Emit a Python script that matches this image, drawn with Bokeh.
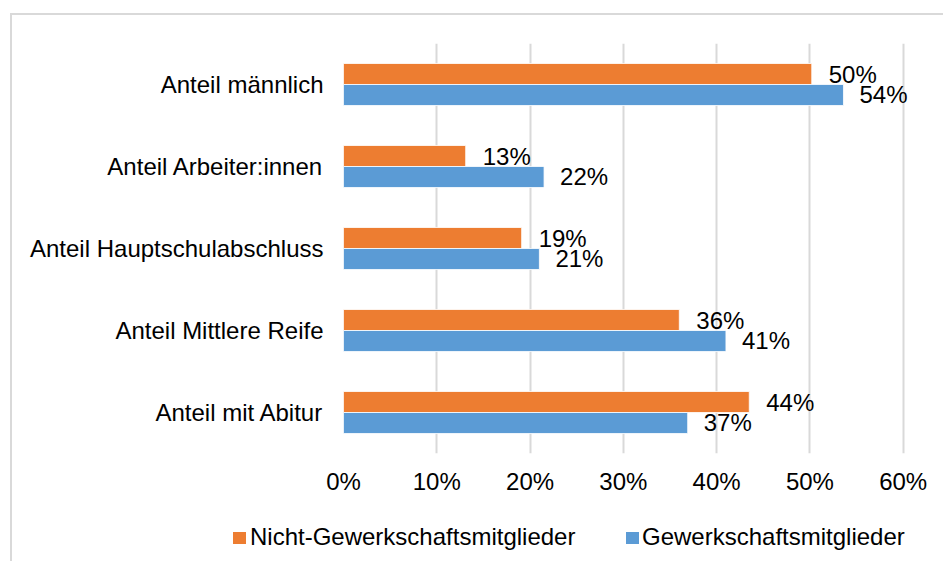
from bokeh.plotting import figure
from bokeh.layouts import column
from bokeh.models import (ColumnDataSource, FixedTicker, NumeralTickFormatter, Range1d, Div)
from bokeh.transform import dodge
from bokeh.core.properties import value
from bokeh.embed import file_html
from bokeh.resources import INLINE

# ---- data ----
categories = ["Anteil männlich", "Anteil Arbeiter:innen", "Anteil Hauptschulabschluss",
              "Anteil Mittlere Reife", "Anteil mit Abitur"]
non_members = [0.502, 0.131, 0.191, 0.360, 0.435]
members = [0.536, 0.215, 0.210, 0.410, 0.369]
non_labels = ["50%", "13%", "19%", "36%", "44%"]
mem_labels = ["54%", "22%", "21%", "41%", "37%"]
x_ticks = [0.0, 0.1, 0.2, 0.3, 0.4, 0.5, 0.6]
series_names = ["Nicht-Gewerkschaftsmitglieder", "Gewerkschaftsmitglieder"]
colors = ["#ED7D31", "#5B9BD5"]

FONT = "Liberation Sans"
FS = "24px"
TXT = "#000000"
BORDER = "#d9d9d9"

src = ColumnDataSource(dict(cat=categories, non=non_members, mem=members,
                            non_lab=non_labels, mem_lab=mem_labels))

# ---- main chart ----
p = figure(width=943, height=500, y_range=list(reversed(categories)),
           x_range=Range1d(0, 0.61), output_backend="svg", toolbar_location=None,
           min_border_left=343, min_border_right=31, min_border_top=43,
           min_border_bottom=47)
p.styles = {"background": f"linear-gradient({BORDER}, {BORDER}) 10px 13px / 2px 600px no-repeat, "
                          f"linear-gradient({BORDER}, {BORDER}) 10px 13px / 1200px 2px no-repeat, white"}
p.outline_line_color = None
p.background_fill_color = "white"
p.border_fill_alpha = 0

bar_h = 0.256
off = 0.128
p.hbar(y=dodge("cat", off, range=p.y_range), right="non", left=0, height=bar_h,
       source=src, fill_color=colors[0], line_color="white", line_width=0.8)
p.hbar(y=dodge("cat", -off, range=p.y_range), right="mem", left=0, height=bar_h,
       source=src, fill_color=colors[1], line_color="white", line_width=0.8)

p.text(x="non", y=dodge("cat", off, range=p.y_range), text="non_lab", source=src,
       x_offset=17, text_baseline="middle", text_align="left",
       text_font=value(FONT), text_font_size=FS, text_color=TXT)
p.text(x="mem", y=dodge("cat", -off, range=p.y_range), text="mem_lab", source=src,
       x_offset=16, text_baseline="middle", text_align="left",
       text_font=value(FONT), text_font_size=FS, text_color=TXT)

p.xaxis.ticker = FixedTicker(ticks=x_ticks)
p.xaxis.formatter = NumeralTickFormatter(format="0%")
for ax in (p.xaxis[0], p.yaxis[0]):
    ax.axis_line_color = None
    ax.major_tick_line_color = None
    ax.minor_tick_line_color = None
    ax.major_tick_out = 0
    ax.major_tick_in = 0
    ax.major_label_text_font = FONT
    ax.major_label_text_font_size = FS
    ax.major_label_text_color = TXT
p.xaxis.major_label_standoff = 14
p.yaxis.major_label_standoff = 20

p.ygrid.grid_line_color = None
p.xgrid.grid_line_color = BORDER
p.xgrid.grid_line_width = 2

# ---- legend strip (below the chart) ----
square_left = [233, 626]
text_left = [250, 642]
parts = [f'<span style="position:absolute;left:10px;top:0;width:2px;height:61px;'
         f'background:{BORDER}"></span>']
for name, col, sx, tx in zip(series_names, colors, square_left, text_left):
    parts.append(f'<span style="position:absolute;left:{sx}px;top:32px;width:13px;'
                 f'height:12px;background:{col}"></span>')
    parts.append(f'<span style="position:absolute;left:{tx}px;top:23px;white-space:nowrap;'
                 f'font-family:\'{FONT}\';font-size:{FS};line-height:normal;color:{TXT}">'
                 f'{name}</span>')
legend_html = ('<div style="position:relative;width:943px;height:61px;margin:0;padding:0;'
               'background:white">' + "".join(parts) + '</div>')
legend_div = Div(text=legend_html, width=943, height=61, margin=0)

layout = column(p, legend_div, spacing=0)
open("out.html", "w").write(file_html(layout, INLINE))
